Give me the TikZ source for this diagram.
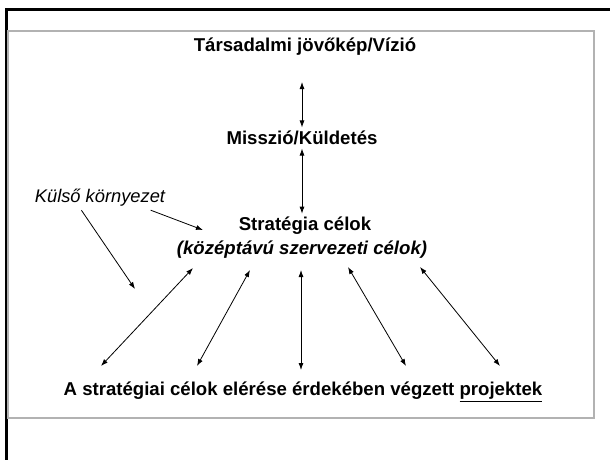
\documentclass[tikz,border=0pt]{standalone}
\usepackage{fontspec}
\setmainfont{Liberation Sans}
\usetikzlibrary{arrows.meta}

\begin{document}
\begin{tikzpicture}[>={Latex[length=7pt,width=5pt]}, x=1pt, y=-1pt,
    every node/.style={font=\fontsize{18.6}{21}\selectfont\bfseries},
    conn/.style={<->, line width=0.8pt},
    push/.style={->, line width=0.8pt}]
        \useasboundingbox (0,0) rectangle (610,459);
        % frames
        \draw [line width=3pt] (6,460) -- (6,9) -- (611,9);
        \draw [gray!60, line width=2pt] (8,31) rectangle (594,418);

        \node (vizio) at (305,47) {Társadalmi jövőkép/Vízió};
        \node (misszio) at (302,138) {Misszió/Küldetés};
        \node (strat) at (305,226) {Stratégia célok};
        \node (celok) at (302,250) {\itshape(középtávú szervezeti célok)};
        \node [font=\fontsize{18.3}{21}\selectfont\itshape] (kulso) at (100,198) {Külső környezet};
        \node (proj) at (303,392) {A stratégiai célok elérése érdekében végzett \underline{projektek}};

        \draw [conn] (302,82) -- (misszio.north);
        \draw [conn] (misszio.south) -- (strat.north -| misszio);

        % free ends of the fan
        \foreach \i/\x/\y in {1/193/268, 2/250/270, 3/301/270, 4/348/267, 5/420/267}{
            \coordinate (c\i) at (\x,\y);
        }
        \foreach \i/\x/\y in {1/101/366, 2/197/366, 3/301/370, 4/406/366, 5/500/366}{
            \coordinate (p\i) at (\x,\y);
        }
        \foreach \i in {1,...,5}{
            \draw [conn] (c\i) -- (p\i);
        }

        \coordinate (k1) at (203,230);
        \coordinate (k2) at (135,289);
        \draw [push] (kulso.south east) ++(-18,0) -- (k1);
        \draw [push] (kulso.south west) ++(50,0) -- (k2);
    \end{tikzpicture}
\end{document}
